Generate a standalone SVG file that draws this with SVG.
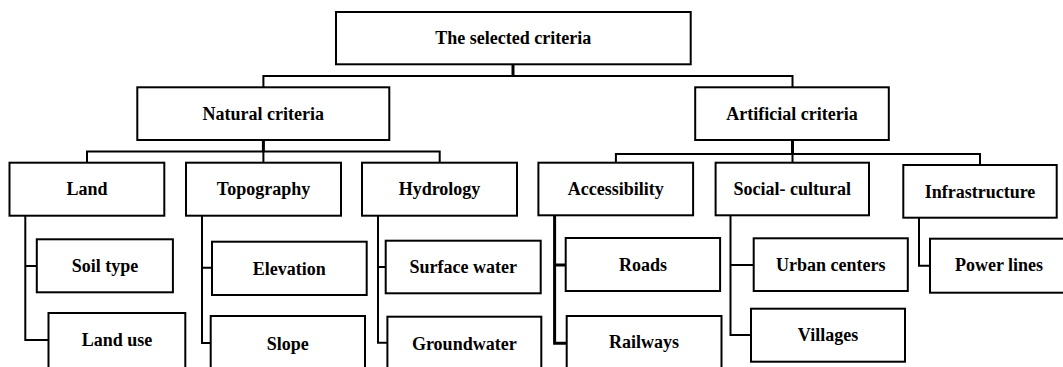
<svg xmlns="http://www.w3.org/2000/svg" width="1063" height="367" viewBox="0 0 1063 367">
<style>
.box{fill:#fff;stroke:#000;stroke-width:2}
.t{font-family:"Liberation Serif","Times New Roman",serif;font-weight:bold;font-size:18px;text-anchor:middle;fill:#000}
.c{fill:none;stroke:#000;stroke-width:2}
.s{fill:none;stroke:#000;stroke-width:3}
</style>
<rect width="1063" height="367" fill="#fff"/>
<g id="connectors">
<path class="s" d="M513,64 V76"/>
<path class="c" d="M263.4,87.3 V76 H792.5 V87.3"/>
<path class="s" d="M263.4,140 V151.5"/>
<path class="c" d="M87,162.7 V151.5 H439.7 V162.7 M263.4,151.5 V162.7"/>
<path class="s" d="M792.5,140 V154"/>
<path class="c" d="M615.9,162.7 V154 H980 V165 M792.5,154 V162.7"/>
<path class="c" d="M25.3,216 V340 H48.5 M25.3,266 H36.8"/>
<path class="c" d="M202,216 V343 H210.7 M202,267.7 H212"/>
<path class="c" d="M378,216 V342.7 H387.4 M378,267 H385.7"/>
<path class="s" d="M554.6,215 V343.3 H566.7 M554.6,265 H565.7"/>
<path class="c" d="M730.5,215 V335 H751 M730.5,265 H753.7"/>
<path class="c" d="M919,218 V265.7 H930"/>
</g>
<g id="n-root"><rect class="box" x="336" y="12" width="354.7" height="52.3"/><text class="t" x="513.3" y="43.5">The selected criteria</text></g>
<g id="n-natural"><rect class="box" x="137.3" y="87.3" width="252" height="52.7"/><text class="t" x="263.3" y="120">Natural criteria</text></g>
<g id="n-artificial"><rect class="box" x="695.2" y="87.3" width="193.6" height="52.7"/><text class="t" x="792" y="120">Artificial criteria</text></g>
<g id="n-land"><rect class="box" x="9.5" y="162.7" width="154.8" height="53"/><text class="t" x="87" y="195">Land</text></g>
<g id="n-topography"><rect class="box" x="186" y="162.7" width="155" height="53"/><text class="t" x="263.5" y="195">Topography</text></g>
<g id="n-hydrology"><rect class="box" x="362" y="162.7" width="155" height="53"/><text class="t" x="439.5" y="195">Hydrology</text></g>
<g id="n-accessibility"><rect class="box" x="538.4" y="162.7" width="154.7" height="52.6"/><text class="t" x="615.7" y="195">Accessibility</text></g>
<g id="n-social"><rect class="box" x="715.6" y="162.7" width="153.4" height="52.6"/><text class="t" x="792.3" y="195">Social- cultural</text></g>
<g id="n-infrastructure"><rect class="box" x="903.3" y="165" width="153.4" height="52.7"/><text class="t" x="980" y="198.3">Infrastructure</text></g>
<g id="n-soil"><rect class="box" x="36.8" y="239.3" width="136.1" height="53"/><text class="t" x="104.9" y="271.8">Soil type</text></g>
<g id="n-landuse"><rect class="box" x="48.5" y="313" width="136.8" height="57"/><text class="t" x="116.9" y="345.7">Land use</text></g>
<g id="n-elevation"><rect class="box" x="212" y="241.7" width="154.7" height="53.3"/><text class="t" x="289.3" y="274.5">Elevation</text></g>
<g id="n-slope"><rect class="box" x="210.7" y="316" width="154.3" height="57"/><text class="t" x="287.8" y="350">Slope</text></g>
<g id="n-surface"><rect class="box" x="385.7" y="240.7" width="155" height="52.6"/><text class="t" x="463.2" y="273.3">Surface water</text></g>
<g id="n-groundwater"><rect class="box" x="387.4" y="316.7" width="153.9" height="57"/><text class="t" x="464.3" y="350">Groundwater</text></g>
<g id="n-roads"><rect class="box" x="565.7" y="238" width="154.4" height="53"/><text class="t" x="642.9" y="270.7">Roads</text></g>
<g id="n-railways"><rect class="box" x="566.7" y="316" width="154.8" height="57"/><text class="t" x="644.1" y="348.3">Railways</text></g>
<g id="n-urban"><rect class="box" x="753.7" y="238.3" width="154.1" height="52.7"/><text class="t" x="830.7" y="270.7">Urban centers</text></g>
<g id="n-villages"><rect class="box" x="751" y="308.7" width="154" height="53"/><text class="t" x="828" y="341.2">Villages</text></g>
<g id="n-power"><rect class="box" x="930" y="238.7" width="140" height="54"/><text class="t" x="999" y="271">Power lines</text></g>
</svg>
